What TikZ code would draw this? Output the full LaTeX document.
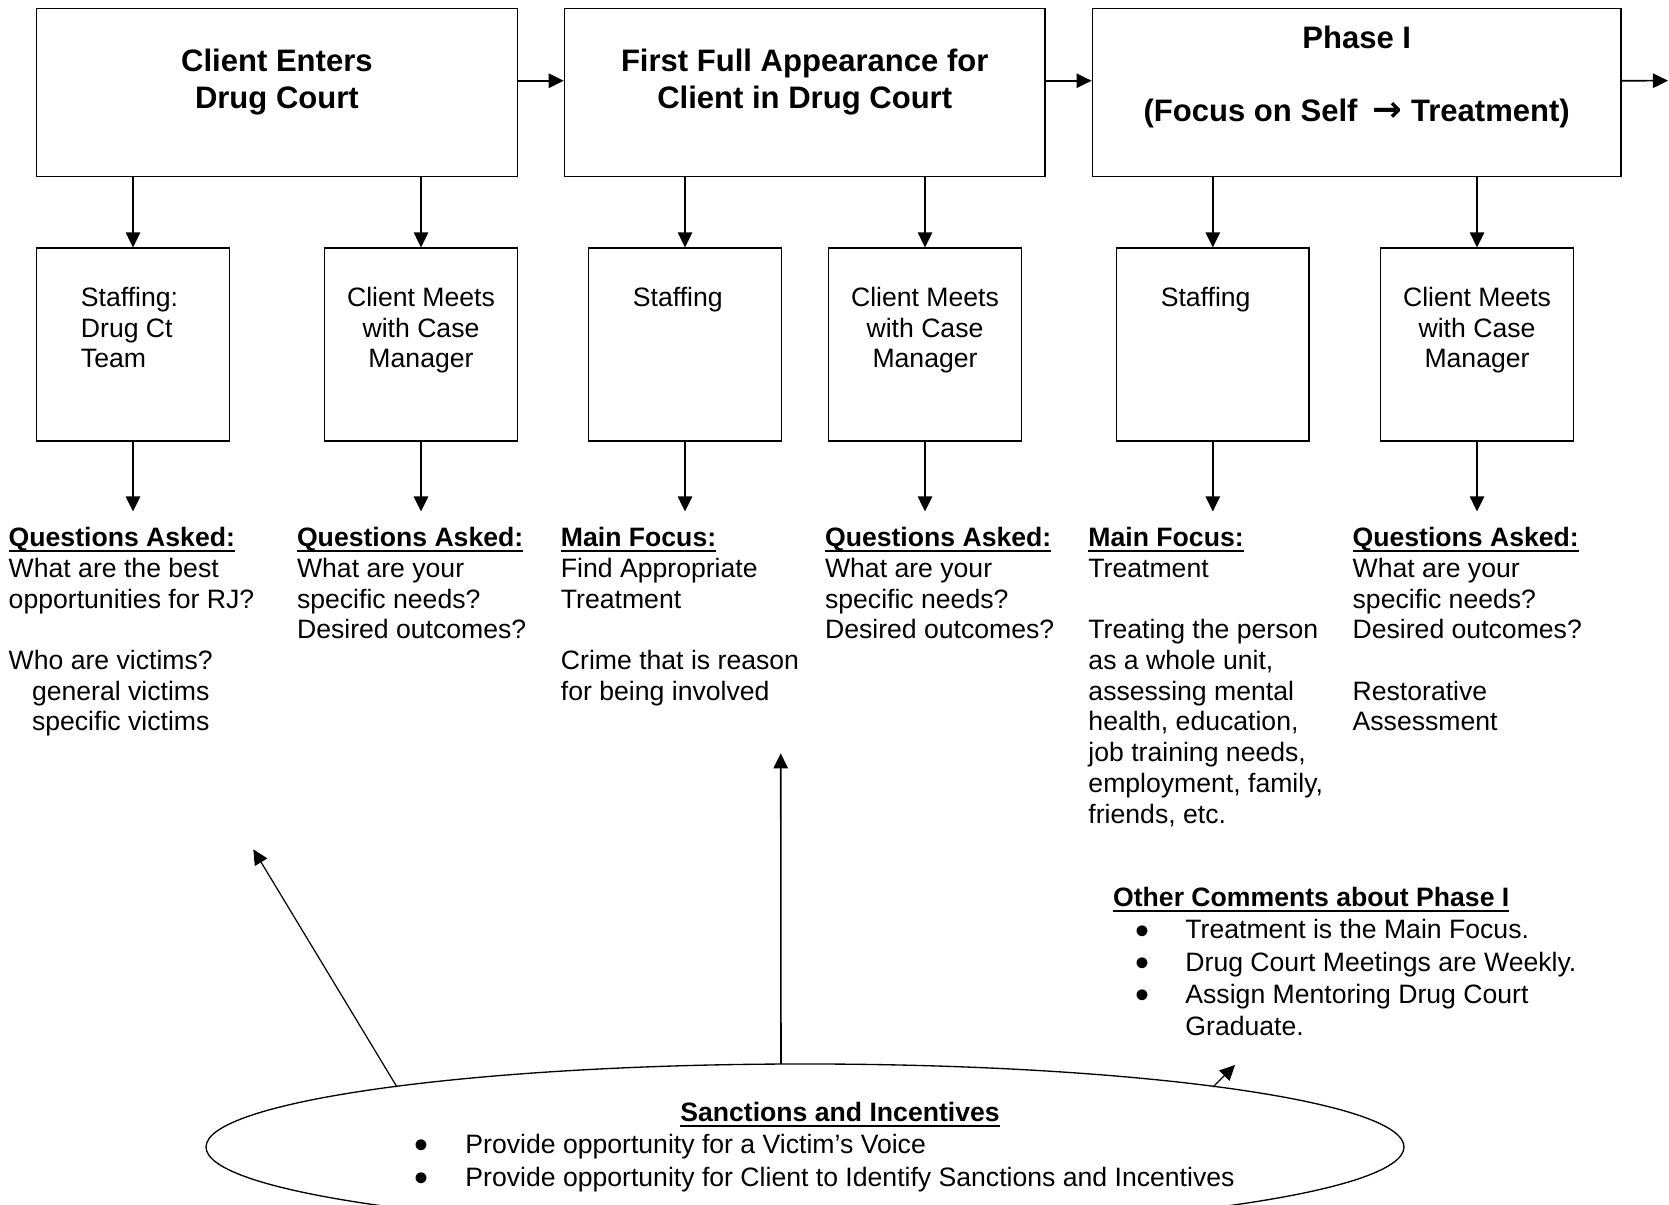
\documentclass[tikz,border=0pt]{standalone}
\usepackage{fontspec}
\setmainfont{Liberation Sans}
\newfontfamily\arrowfont{DejaVu Sans}
\usetikzlibrary{arrows.meta,shapes.geometric}
\newcommand{\hdr}[1]{\setbox0\hbox{\textbf{#1}}\rlap{\rule[-2.6pt]{\wd0}{1.1pt}}\box0}
\newcommand{\leftlines}[1]{\begin{tabular}[t]{@{}l@{}}#1\end{tabular}}
\newcommand{\midlines}[1]{\begin{tabular}[t]{@{}c@{}}#1\end{tabular}}
\newcommand{\dotmark}{\smash{\raisebox{-2.4pt}{\scalebox{1.5}{\textbullet}}}}
\newcommand{\itm}{\makebox[32.6pt][l]{\hspace*{9.9pt}\dotmark}}
\newcommand{\sitm}{\makebox[23pt][l]{\dotmark}}
\begin{document}
\begin{tikzpicture}[x=0.451pt, y=-0.451pt,
    phasebox/.style={draw, line width=0.75pt, minimum height=75.9pt, inner sep=0pt},
    stepbox/.style={draw, line width=0.75pt, minimum width=87pt, minimum height=86.8pt, inner sep=0pt},
    arr/.style={line width=0.7pt, -{Triangle[length=6.8pt,width=6.5pt]}},
    thinarr/.style={line width=0.55pt, -{Triangle[length=6.8pt,width=6.5pt]}},
    bigtxt/.style={font=\fontsize{14}{16.5}\selectfont\bfseries, inner sep=0pt, anchor=base},
    boxtxt/.style={font=\fontsize{12}{13.7}\selectfont, inner sep=0pt},
    coltxt/.style={font=\fontsize{12}{13.85}\selectfont, inner xsep=0pt, inner ysep=6pt, anchor=base west}]
    \useasboundingbox (0,0) rectangle (1669,1204);
    \path node (enter) at (276.9,92.5) [phasebox, minimum width=216.9pt] {}
          node (first) at (804.7,92.5) [phasebox, minimum width=216.6pt] {}
          node (phase) at (1356.7,92.5) [phasebox, minimum width=238.4pt] {};
    \node[bigtxt] (entertxt) at (276.9,71.7) {\midlines{Client Enters\\Drug Court}};
    \node[bigtxt] (firsttxt) at (804.7,71.7) {\midlines{First Full Appearance for\\Client in Drug Court}};
    \node[bigtxt] (phasetxt) at (1356.7,48.3) {\midlines{Phase I\\ \\(Focus on Self\hspace{3pt} {\arrowfont\fontsize{16}{16}\selectfont →} Treatment)}};
    \coordinate (next) at (1668,80.7);
    \draw[arr] ([yshift=5.3pt]enter.east) -- ([yshift=5.3pt]first.west);
    \draw[arr] ([yshift=5.3pt]first.east) -- ([yshift=5.3pt]phase.west);
    \draw[arr] ([yshift=5.3pt]phase.east) -- (next);
    \path node (stafA) at (133,344.5) [stepbox] {}
          node (meetA) at (421,344.5) [stepbox] {}
          node (stafB) at (685,344.5) [stepbox] {}
          node (meetB) at (925,344.5) [stepbox] {}
          node (stafC) at (1212.8,344.5) [stepbox] {}
          node (meetC) at (1477,344.5) [stepbox] {};
    \node[boxtxt, anchor=base west] (stafAtxt) at (80.5,306.7) {\leftlines{Staffing:\\Drug Ct\\Team}};
    \node[boxtxt, anchor=base] (meetAtxt) at (421,306.7) {\midlines{Client Meets\\with Case\\Manager}};
    \node[boxtxt, anchor=base west] (stafBtxt) at (632.5,306.7) {Staffing};
    \node[boxtxt, anchor=base] (meetBtxt) at (925,306.7) {\midlines{Client Meets\\with Case\\Manager}};
    \node[boxtxt, anchor=base west] (stafCtxt) at (1160.3,306.7) {Staffing};
    \node[boxtxt, anchor=base] (meetCtxt) at (1477,306.7) {\midlines{Client Meets\\with Case\\Manager}};
    \draw[arr] (enter.south -| stafA.north) -- (stafA.north);
    \draw[arr] (enter.south -| meetA.north) -- (meetA.north);
    \draw[arr] (first.south -| stafB.north) -- (stafB.north);
    \draw[arr] (first.south -| meetB.north) -- (meetB.north);
    \draw[arr] (phase.south -| stafC.north) -- (stafC.north);
    \draw[arr] (phase.south -| meetC.north) -- (meetC.north);
    \node[coltxt] (stafAnote) at (8.3,546.7) {\leftlines{\hdr{Questions Asked:}\\What are the best\\opportunities for RJ?\\ \\Who are victims?\\
        \hspace*{10.5pt}general victims\\ \hspace*{10.5pt}specific victims}};
    \node[coltxt] (meetAnote) at (296.6,546.7) {\leftlines{\hdr{Questions Asked:}\\What are your\\specific needs?\\Desired outcomes?}};
    \node[coltxt] (stafBnote) at (560.5,546.7) {\leftlines{\hdr{Main Focus:}\\Find Appropriate\\Treatment\\ \\Crime that is reason\\for being involved}};
    \node[coltxt] (meetBnote) at (824.6,546.7) {\leftlines{\hdr{Questions Asked:}\\What are your\\specific needs?\\Desired outcomes?}};
    \node[coltxt] (stafCnote) at (1088,546.7) {\leftlines{\hdr{Main Focus:}\\Treatment\\ \\Treating the person\\as a whole unit,\\assessing mental\\
        health, education,\\job training needs,\\employment, family,\\friends, etc.}};
    \node[coltxt] (meetCnote) at (1352.2,546.7) {\leftlines{\hdr{Questions Asked:}\\What are your\\specific needs?\\Desired outcomes?\\ \\Restorative\\Assessment}};
    \draw[arr] (stafA.south) -- (stafA.south |- stafAnote.north);
    \draw[arr] (meetA.south) -- (meetA.south |- meetAnote.north);
    \draw[arr] (stafB.south) -- (stafB.south |- stafBnote.north);
    \draw[arr] (meetB.south) -- (meetB.south |- meetBnote.north);
    \draw[arr] (stafC.south) -- (stafC.south |- stafCnote.north);
    \draw[arr] (meetC.south) -- (meetC.south |- meetCnote.north);
    \node[font=\fontsize{12}{14.5}\selectfont, inner sep=0pt, anchor=base west] (othernote) at (1112.7,906.7)
        {\leftlines{\hdr{Other Comments about Phase I}\\ \itm Treatment is the Main Focus.\\ \itm Drug Court Meetings are Weekly.\\
        \itm Assign Mentoring Drug Court\\ \hspace*{32.6pt}Graduate.}};
    \node[draw, ellipse, line width=0.6pt, minimum width=540.3pt, minimum height=74.9pt, inner sep=0pt] (sanc) at (805,1147) {};
    \node[font=\fontsize{12}{13.85}\selectfont, inner sep=0pt, anchor=base] (sanchead) at (840,1121.7) {\hdr{Sanctions and Incentives}};
    \node[font=\fontsize{12}{15}\selectfont, inner sep=0pt, anchor=base west] (sancitems) at (414,1153.3)
        {\leftlines{\sitm Provide opportunity for a Victim’s Voice\\ \sitm Provide opportunity for Client to Identify Sanctions and Incentives}};
    \coordinate (goalL) at (253.3,849.3);
    \coordinate (goalM) at (780.7,753.3);
    \coordinate (goalR) at (1235,1065);
    \draw[thinarr] ([shift={(-408,-60)}]sanc.center) -- (goalL);
    \draw[arr] ([shift={(-24,-83)}]sanc.center) -- (goalM);
    \draw[thinarr] ([shift={(408,-60)}]sanc.center) -- (goalR);
\end{tikzpicture}
\end{document}
